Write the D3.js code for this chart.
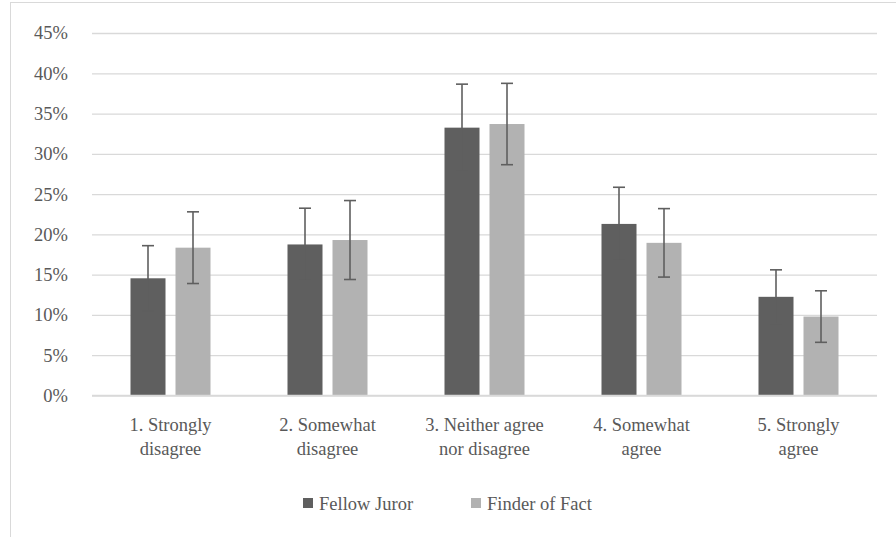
<!DOCTYPE html>
<html>
<head>
<meta charset="utf-8">
<script src="https://cdn.jsdelivr.net/npm/d3@7"></script>
<style>
  html, body { margin: 0; padding: 0; background: #fff; }
  svg { display: block; }
</style>
</head>
<body>
<script>
const categories = [["1. Strongly", "disagree"], ["2. Somewhat", "disagree"], ["3. Neither agree", "nor disagree"], ["4. Somewhat", "agree"], ["5. Strongly", "agree"]];
const seriesNames = ["Fellow Juror", "Finder of Fact"];
const fellowJuror = [14.55, 18.75, 33.25, 21.3, 12.25];
const fellowJurorErr = [4.05, 4.5, 5.4, 4.55, 3.35];
const finderOfFact = [18.35, 19.3, 33.7, 18.95, 9.8];
const finderOfFactErr = [4.45, 4.9, 5.05, 4.25, 3.2];
const yTicks = [0, 5, 10, 15, 20, 25, 30, 35, 40, 45];
const colors = ["#5f5f5f", "#b2b2b2"];

const FS = 18.5;
const TXT = "#595959";

const W = 896, H = 537;
const svg = d3.select("body").append("svg").attr("width", W).attr("height", H)
  .attr("font-family", "Liberation Serif").attr("font-size", FS);

svg.append("rect").attr("x", 10.5).attr("y", 2.5).attr("width", 900).attr("height", 600)
  .attr("fill", "#fff").attr("stroke", "#d9d9d9").attr("stroke-width", 1);

const plot = { left: 92, right: 877, top: 33, bottom: 395.5 };
const catKeys = categories.map((c, i) => i);

const y = d3.scaleLinear().domain([0, 45]).range([plot.bottom, plot.top]);
const x0 = d3.scaleBand().domain(catKeys).range([plot.left, plot.right]).padding(0);
const x1 = d3.scaleBand().domain(seriesNames).range([38.5, 118.5]).paddingInner(2 / 9).paddingOuter(0);

// gridlines + y tick labels
const yAxis = d3.axisLeft(y).tickValues(yTicks).tickSize(-(plot.right - plot.left)).tickFormat(d => d + "%").tickPadding(24);
const gy = svg.append("g").attr("transform", `translate(${plot.left},0)`).call(yAxis);
gy.attr("font-family", "Liberation Serif").attr("font-size", FS);
gy.select(".domain").remove();
gy.selectAll(".tick line").attr("stroke", "#d9d9d9").attr("stroke-width", 1.3);
gy.selectAll(".tick text")
  .attr("font-family", "Liberation Serif").attr("font-size", FS).attr("fill", TXT);

const data = [
  { name: seriesNames[0], vals: fellowJuror, errs: fellowJurorErr, color: colors[0] },
  { name: seriesNames[1], vals: finderOfFact, errs: finderOfFactErr, color: colors[1] }
];

data.forEach(s => {
  const g = svg.append("g");
  g.selectAll("rect").data(s.vals).join("rect")
    .attr("x", (d, i) => x0(i) + x1(s.name))
    .attr("y", d => y(d))
    .attr("width", x1.bandwidth())
    .attr("height", d => y(0) - y(d))
    .attr("fill", s.color);
});

// baseline
svg.append("line").attr("x1", plot.left).attr("x2", plot.right).attr("y1", y(0)).attr("y2", y(0))
  .attr("stroke", "#d9d9d9").attr("stroke-width", 1.5);

// error bars
data.forEach(s => {
  const g = svg.append("g").attr("stroke", "#5f5f5f").attr("stroke-width", 1.6).attr("fill", "none");
  s.vals.forEach((v, i) => {
    const cx = x0(i) + x1(s.name) + x1.bandwidth() / 2;
    const hi = y(v + s.errs[i]), lo = y(v - s.errs[i]);
    g.append("line").attr("x1", cx).attr("x2", cx).attr("y1", hi).attr("y2", lo);
    g.append("line").attr("x1", cx - 6).attr("x2", cx + 6).attr("y1", hi).attr("y2", hi);
    g.append("line").attr("x1", cx - 6).attr("x2", cx + 6).attr("y1", lo).attr("y2", lo);
  });
});

// category labels
categories.forEach((lines, i) => {
  const cx = x0(i) + x0.bandwidth() / 2;
  lines.forEach((ln, j) => {
    svg.append("text").attr("x", cx).attr("y", 431 + j * 24)
      .attr("text-anchor", "middle")
      .attr("font-family", "Liberation Serif").attr("font-size", FS).attr("fill", TXT)
      .text(ln);
  });
});

// legend
const legendItems = [
  { name: seriesNames[0], color: colors[0], x: 303 },
  { name: seriesNames[1], color: colors[1], x: 471 }
];
legendItems.forEach(it => {
  svg.append("rect").attr("x", it.x).attr("y", 498).attr("width", 10).attr("height", 10).attr("fill", it.color);
  svg.append("text").attr("x", it.x + 16).attr("y", 509.5)
    .attr("font-family", "Liberation Serif").attr("font-size", FS).attr("fill", TXT)
    .text(it.name);
});
</script>
</body>
</html>
